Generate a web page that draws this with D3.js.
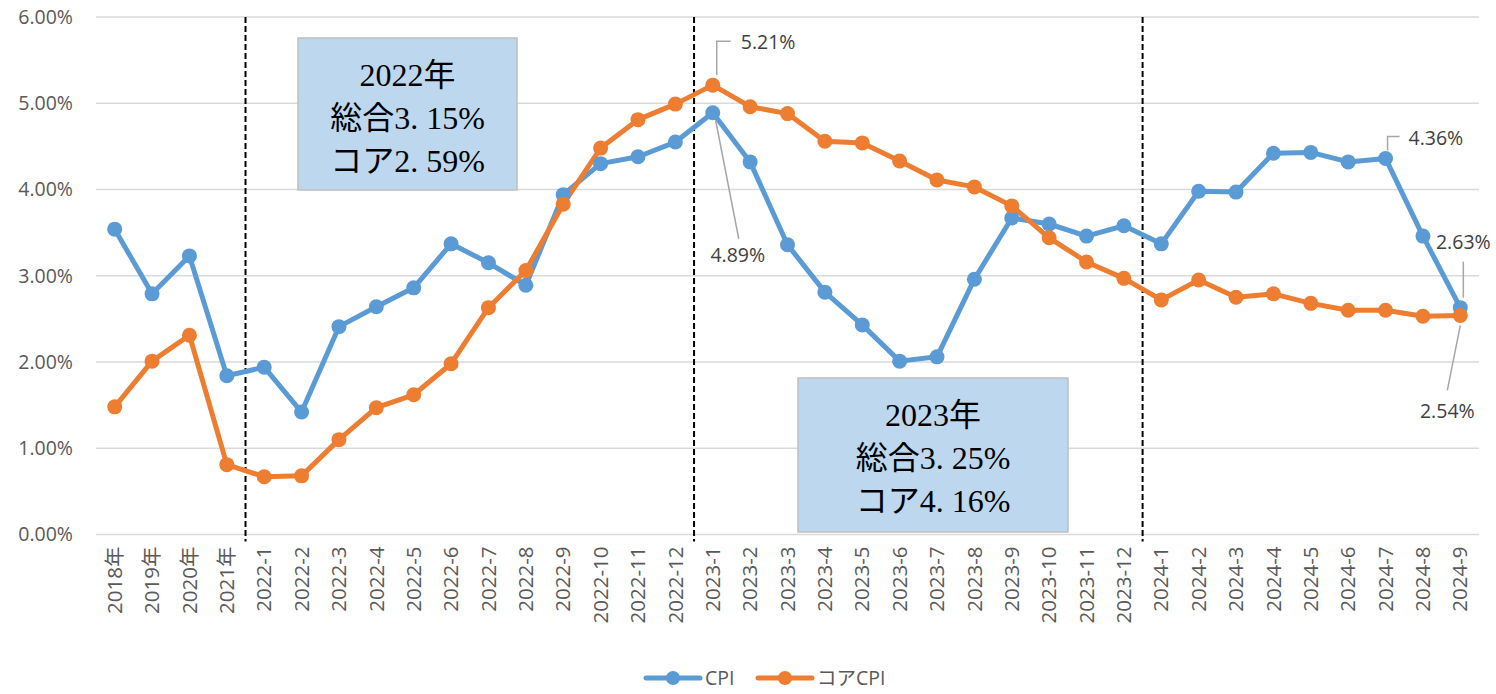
<!DOCTYPE html>
<html><head><meta charset="utf-8">
<script src="https://cdn.jsdelivr.net/npm/d3@7"></script>
<style>
html,body{margin:0;padding:0;background:#fff;}
svg{display:block;}
</style></head>
<body><svg id="chart" width="1496" height="694"></svg>
<script>
const categories = ["2018年","2019年","2020年","2021年",
 "2022-1","2022-2","2022-3","2022-4","2022-5","2022-6","2022-7","2022-8","2022-9","2022-10","2022-11","2022-12",
 "2023-1","2023-2","2023-3","2023-4","2023-5","2023-6","2023-7","2023-8","2023-9","2023-10","2023-11","2023-12",
 "2024-1","2024-2","2024-3","2024-4","2024-5","2024-6","2024-7","2024-8","2024-9"];
const cpi = [3.54,2.79,3.23,1.84,
 1.94,1.42,2.41,2.64,2.86,3.37,3.15,2.89,3.94,4.30,4.38,4.55,
 4.89,4.32,3.36,2.81,2.43,2.01,2.06,2.96,3.67,3.60,3.46,3.58,
 3.37,3.98,3.97,4.42,4.43,4.32,4.36,3.46,2.63];
const core = [1.48,2.01,2.31,0.81,
 0.67,0.68,1.10,1.47,1.62,1.98,2.63,3.06,3.83,4.48,4.81,4.99,
 5.21,4.96,4.88,4.56,4.54,4.33,4.11,4.03,3.81,3.44,3.16,2.97,
 2.72,2.95,2.75,2.79,2.68,2.60,2.60,2.53,2.54];
const yTicks = [0,1,2,3,4,5,6];
const seriesNames = ["CPI","コアCPI"];
const colors = ["#5B9BD5","#ED7D31"];
const dividers = ["2022-1","2023-1","2024-1"];
const boxes = [
 {from:"2022-2", lines:["2022年","総合3. 15%","コア2. 59%"]},
 {from:"2023-3", lines:["2023年","総合3. 25%","コア4. 16%"]}
];
const labels = [
 {s:1, cat:"2023-1", text:"5.21%"},
 {s:0, cat:"2023-1", text:"4.89%"},
 {s:0, cat:"2024-7", text:"4.36%"},
 {s:0, cat:"2024-9", text:"2.63%"},
 {s:1, cat:"2024-9", text:"2.54%"}
];

const svg = d3.select("#chart");
const L=96, R=1479, T=17, B=534.5;
const x = d3.scaleBand().domain(categories).range([L,R]).paddingInner(0).paddingOuter(0);
const y = d3.scaleLinear().domain([0,6]).range([B,T]);
const cx = c => x(c)+x.bandwidth()/2;
const font = "'Open Sans','Noto Sans CJK JP',sans-serif";

// gridlines
svg.append("g").selectAll("line").data(yTicks).join("line")
 .attr("x1",L).attr("x2",R).attr("y1",d=>y(d)).attr("y2",d=>y(d))
 .attr("stroke","#D9D9D9").attr("stroke-width",1.5);

// y axis labels
const yAxis = d3.axisLeft(y).tickValues(yTicks).tickSize(0).tickPadding(0).tickFormat(d=>d3.format(".2f")(d)+"%");
const ya = svg.append("g").attr("transform",`translate(${L-23},0)`).call(yAxis);
ya.select(".domain").remove();
ya.selectAll("text").attr("font-family",font).attr("font-size",19.5).attr("fill","#595959");

// x axis labels
const xAxis = d3.axisBottom(x).tickSize(0).tickPadding(0);
const xa = svg.append("g").attr("transform",`translate(0,${B})`).call(xAxis);
xa.select(".domain").remove();
xa.selectAll("text")
 .attr("font-family",font).attr("font-size",20.5).attr("fill","#595959")
 .attr("transform","rotate(-90)").attr("text-anchor","end")
 .attr("x",-12).attr("y",0).attr("dy","0.35em");

// dividers
svg.append("g").selectAll("line").data(dividers).join("line")
 .attr("x1",d=>x(d)).attr("x2",d=>x(d)).attr("y1",T).attr("y2",B+7)
 .attr("stroke","#000").attr("stroke-width",2).attr("stroke-dasharray","6,3");

// boxes
boxes.forEach((b,i)=>{
  const x0 = i===0 ? 298 : 798, y0 = i===0 ? 38 : 378, w = i===0 ? 219 : 270, h = i===0 ? 152 : 154;
  const g = svg.append("g");
  g.append("rect").attr("x",x0).attr("y",y0).attr("width",w).attr("height",h)
   .attr("fill","#BDD7EE").attr("stroke","#BFBFBF").attr("stroke-width",1.5);
  b.lines.forEach((t,j)=>{
    g.append("text").attr("x",x0+w/2).attr("y",y0+37+j*43).attr("dy","0.35em")
     .attr("text-anchor","middle").attr("font-family","'Liberation Serif','DejaVu Serif','Noto Sans CJK JP',serif")
     .attr("font-size",32).attr("fill","#000").text(t);
  });
});

// lines
const data = [cpi, core];
const line = d3.line().x((d,i)=>cx(categories[i])).y(d=>y(d));
data.forEach((s,k)=>{
  svg.append("path").datum(s).attr("d",line).attr("fill","none")
   .attr("stroke",colors[k]).attr("stroke-width",5).attr("stroke-linejoin","round");
});
data.forEach((s,k)=>{
  svg.append("g").selectAll("circle").data(s).join("circle")
   .attr("cx",(d,i)=>cx(categories[i])).attr("cy",d=>y(d)).attr("r",7.5).attr("fill",colors[k]);
});

// data labels with leader lines
const offsets = {
 "5.21%": {lx:[4,4,18], ly:[-10,-44,-44], tx:28, ty:-43, anchor:"start"},
 "4.89%": {lx:[3,26], ly:[8,126], tx:25, ty:142, anchor:"middle"},
 "4.36%": {lx:[2,2,14], ly:[-8,-22,-22], tx:23, ty:-20, anchor:"start"},
 "2.63%": {lx:[3,3], ly:[-10,-46], tx:3, ty:-65, anchor:"middle"},
 "2.54%": {lx:[0,-13], ly:[10,75], tx:-13, ty:96, anchor:"middle"}
};
labels.forEach(l=>{
  const i = categories.indexOf(l.cat);
  const px = cx(l.cat), py = y(data[l.s][i]);
  const o = offsets[l.text];
  const pts = o.lx.map((dx,j)=>[px+dx, py+o.ly[j]]);
  svg.append("path").attr("d",d3.line()(pts)).attr("fill","none").attr("stroke","#A6A6A6").attr("stroke-width",1.5);
  svg.append("text").attr("x",px+o.tx).attr("y",py+o.ty).attr("dy","0.35em").attr("text-anchor",o.anchor)
   .attr("font-family",font).attr("font-size",19.5).attr("fill","#404040").text(l.text);
});

// legend
const lg = svg.append("g");
const legX = [646, 758];
seriesNames.forEach((n,k)=>{
  const lx = legX[k], ly = 678;
  lg.append("line").attr("x1",lx).attr("x2",lx+54).attr("y1",ly).attr("y2",ly)
   .attr("stroke",colors[k]).attr("stroke-width",5).attr("stroke-linecap","round");
  lg.append("circle").attr("cx",lx+27).attr("cy",ly).attr("r",7).attr("fill",colors[k]);
  lg.append("text").attr("x",lx+59).attr("y",ly).attr("dy","0.35em")
   .attr("font-family",font).attr("font-size",19.5).attr("fill","#595959").text(n);
});
</script></body></html>
